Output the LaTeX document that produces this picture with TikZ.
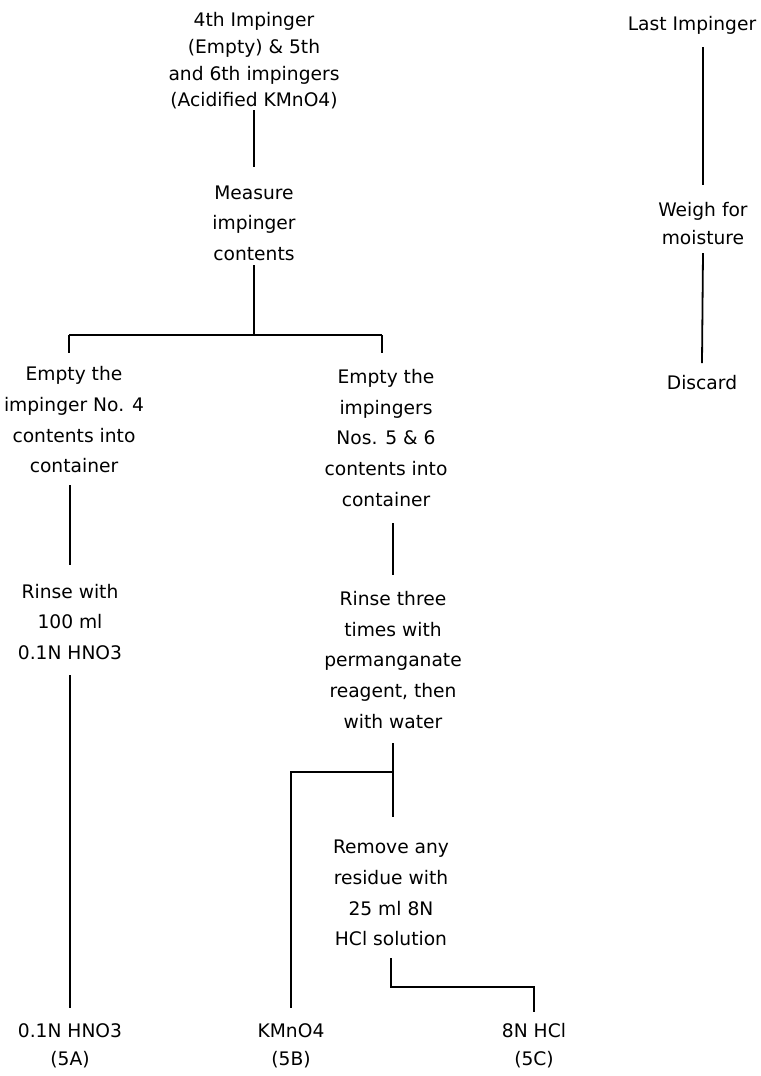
\documentclass[tikz,border=0pt]{standalone}
\usepackage{fontspec}
\setmainfont{DejaVu Sans}
\begin{document}
\begin{tikzpicture}[x=0.75pt,y=-0.75pt, line width=1.35pt,
  lbl/.style={align=center, inner sep=0pt, font=\fontsize{14}{23}\selectfont},
  tight/.style={font=\fontsize{14}{20}\selectfont},
  mid/.style={font=\fontsize{14}{21}\selectfont}]
\useasboundingbox (0,0) rectangle (761,1076);
% nodes
\node[lbl,tight] (top) at (254,61) {4th Impinger\\(Empty) \& 5th\\and 6th impingers\\(Acidified KMnO4)};
\node[lbl] (measure) at (254,223) {Measure\\impinger\\contents};
\node[lbl] (empty4) at (74,420) {Empty the\\impinger No. 4\\contents into\\container};
\node[lbl] (rinse1) at (70,622) {Rinse with\\100 ml\\0.1N HNO3};
\node[lbl,mid] (hno3) at (70,1046) {0.1N HNO3\\(5A)};
\node[lbl] (empty56) at (386,438) {Empty the\\impingers\\Nos. 5 \& 6\\contents into\\container};
\node[lbl] (rinse3) at (393,660) {Rinse three\\times with\\permanganate\\reagent, then\\with water};
\node[lbl] (remove) at (391,893) {Remove any\\residue with\\25 ml 8N\\HCl solution};
\node[lbl,mid] (kmno4) at (291,1046) {KMnO4\\(5B)};
\node[lbl,mid] (hcl) at (534,1046) {8N HCl\\(5C)};
\node[lbl] (last) at (692,25) {Last Impinger};
\node[lbl,mid] (weigh) at (703,224) {Weigh for\\moisture};
\node[lbl] (discard) at (702,383) {Discard};
% junctions
\coordinate (bar) at (254,335);
\coordinate (barL) at (69,335);
\coordinate (barR) at (382,335);
\coordinate (j2) at (393,772);
% connectors
\draw (top.south |- 0,110) -- (measure.north |- 0,167);
\draw (measure.south |- 0,265) -- (bar);
\draw (barL) -- (barR);
\draw (barL) -- (barL |- 0,353);
\draw (barR) -- (barR |- 0,353);
\draw (rinse1.north |- 0,485) -- (rinse1.north |- 0,565);
\draw (rinse1.south |- 0,675) -- (hno3.north |- 0,1008);
\draw (rinse3.north |- 0,523) -- (rinse3.north |- 0,575);
\draw (rinse3.south |- 0,743) -- (rinse3.south |- 0,817);
\draw (j2) -- (kmno4.north |- j2) -- (kmno4.north |- 0,1008);
\draw (remove.south |- 0,958) -- (remove.south |- 0,987) -| (hcl.north |- 0,1012);
\draw (weigh.north |- 0,47) -- (weigh.north |- 0,185);
\draw (weigh.south |- 0,253) -- (discard.north |- 0,363);
\end{tikzpicture}
\end{document}
